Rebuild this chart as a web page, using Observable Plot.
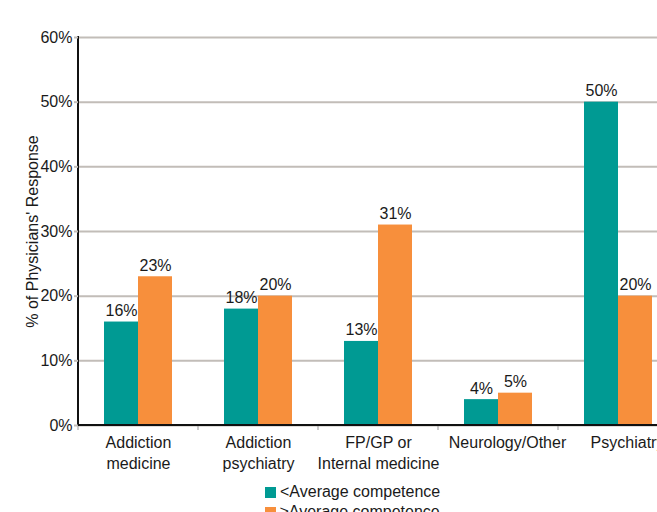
<!DOCTYPE html>
<html>
<head>
<meta charset="utf-8">
<script src="https://cdn.jsdelivr.net/npm/d3@7"></script>
<script src="https://cdn.jsdelivr.net/npm/@observablehq/plot@0.6"></script>
<style>
  html, body { margin: 0; padding: 0; background: #fff; overflow: hidden; }
  body { font-family: "Liberation Sans", Arial, sans-serif; color: #1a1a1a; width: 657px; }
  #chart { width: 657px; overflow: hidden; }
  #chart svg { max-width: none !important; display: block; }
  #legend { padding-left: 265px; font-size: 16px; line-height: 20px; padding-top: 4px; }
  .item { display: flex; align-items: center; height: 20px; white-space: nowrap; }
  .sw { width: 11px; height: 11px; margin-right: 4px; display: inline-block; }
</style>
</head>
<body>
<div id="chart"></div>
<div id="legend"></div>
<script>
const categories = ["Addiction medicine", "Addiction psychiatry", "FP/GP or Internal medicine", "Neurology/Other", "Psychiatry"];
const categoryLabels = ["Addiction\nmedicine", "Addiction\npsychiatry", "FP/GP or\nInternal medicine", "Neurology/Other", "Psychiatry"];
const series = ["<Average competence", "≥Average competence"];
const belowAverage = [16, 18, 13, 4, 50];
const aboveAverage = [23, 20, 31, 5, 20];
const colors = ["#009a93", "#f78f3c"];
const yTicks = [0, 10, 20, 30, 40, 50, 60];
const yLabel = "% of Physicians' Response";

const rows = [];
categories.forEach((c, i) => {
  rows.push({category: c, series: series[0], value: belowAverage[i]});
  rows.push({category: c, series: series[1], value: aboveAverage[i]});
});
const labelOf = new Map(categories.map((c, i) => [c, categoryLabels[i]]));

const gridColor = "#c2bdb8";
const catTextOpts = {
  fx: d => d, text: d => labelOf.get(d), frameAnchor: "bottom",
  lineAnchor: "top", dy: 8, fontSize: 16, lineHeight: 1.3, fill: "#1a1a1a"
};

const plot = Plot.plot({
  width: 700,
  height: 478,
  marginLeft: 78,
  marginRight: 22,
  marginTop: 37,
  marginBottom: 53,
  style: {fontFamily: "'Liberation Sans', Arial, sans-serif", fontSize: "16px", color: "#1a1a1a", background: "#fff", maxWidth: "none"},
  fx: {domain: categories, padding: 0, axis: null},
  x: {domain: series, paddingInner: 0, paddingOuter: 0.739, axis: null},
  y: {domain: [0, 60]},
  color: {domain: series, range: colors},
  marks: [
    Plot.gridY(yTicks, {stroke: gridColor, strokeOpacity: 1, strokeWidth: 2}),
    Plot.barY(rows, {fx: "category", x: "series", y: "value", fill: "series"}),
    Plot.frame({
      facet: "super",
      render: (index, scales, values, dimensions, context) => {
        const {fx, y} = scales;
        const doc = context.document;
        const g = d3.select(doc.createElementNS("http://www.w3.org/2000/svg", "g"));
        const bw = fx.bandwidth();
        const left = fx(categories[0]);
        const right = fx(categories[categories.length - 1]) + bw;
        const y0 = y(0);
        const yTop = y(yTicks[yTicks.length - 1]);
        const bounds = categories.map(c => fx(c)).concat([right]);
        g.selectAll("line.tk").data(bounds).join("line")
          .attr("x1", d => d).attr("x2", d => d)
          .attr("y1", y0).attr("y2", y0 + 5)
          .attr("stroke", "#999").attr("stroke-width", 1);
        g.append("line").attr("x1", left).attr("x2", right).attr("y1", y0).attr("y2", y0)
          .attr("stroke", "#111").attr("stroke-width", 2);
        g.append("line").attr("x1", left).attr("x2", left).attr("y1", yTop - 1).attr("y2", y0 + 1)
          .attr("stroke", "#111").attr("stroke-width", 2);
        return g.node();
      }
    }),
    Plot.axisY(yTicks, {
      tickSize: 4, tickPadding: 2, stroke: gridColor, strokeWidth: 2,
      tickFormat: d => d + "%", fontSize: 16,
      label: yLabel, labelAnchor: "center", labelArrow: "none", labelOffset: 52
    }),
    Plot.text(categories.slice(0, 3), catTextOpts),
    Plot.text(categories.slice(3), {...catTextOpts, dx: 9}),
    Plot.text(rows, {
      fx: "category", x: "series", y: "value", text: d => d.value + "%",
      dy: -6, lineAnchor: "bottom", fontSize: 16, fill: "#1a1a1a"
    })
  ]
});
document.getElementById("chart").appendChild(plot);

const legend = d3.select("#legend");
series.forEach((s, i) => {
  const it = legend.append("div").attr("class", "item");
  it.append("span").attr("class", "sw").style("background", colors[i]);
  it.append("span").text(s);
});
</script>
</body>
</html>
